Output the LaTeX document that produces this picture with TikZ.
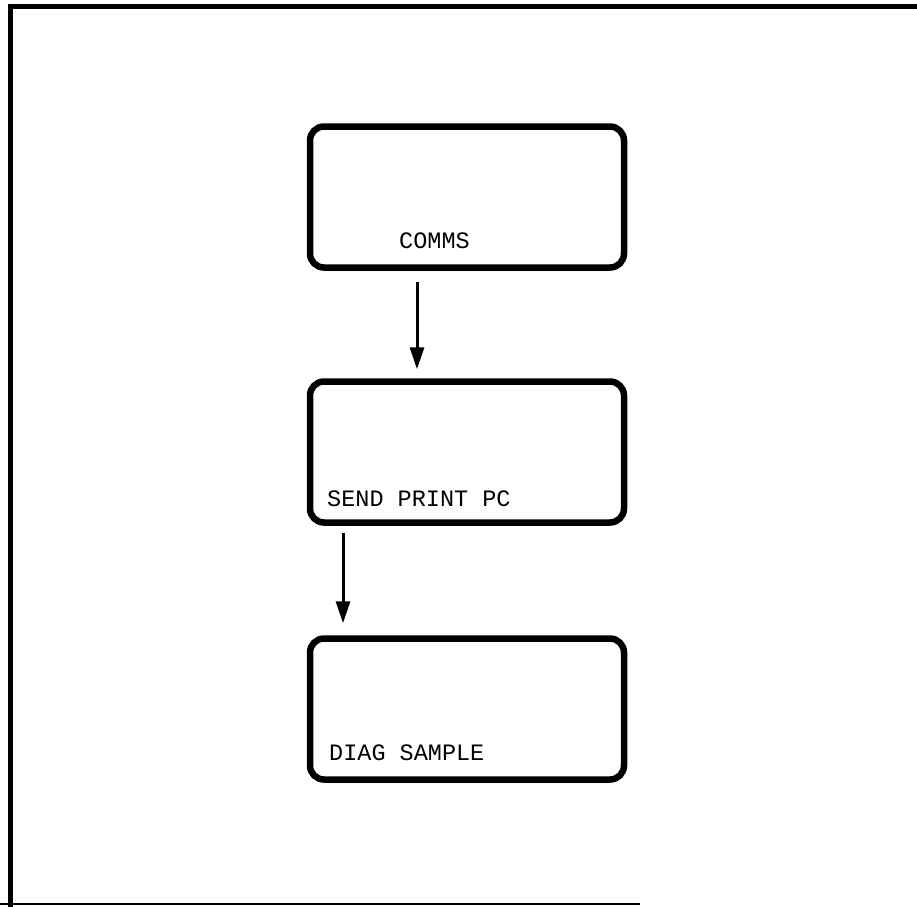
\documentclass[tikz,border=0pt]{standalone}
\usepackage{fontspec}
\setmonofont{Liberation Mono}
\usetikzlibrary{arrows.meta}
\begin{document}
\begin{tikzpicture}[x=1pt,y=-1pt,
  panel/.style={draw=black, line width=6.5pt, rounded corners=14pt,
    minimum width=314pt, minimum height=141pt, inner sep=0pt},
  caption/.style={font=\ttfamily\fontsize{23.5}{28}\selectfont, anchor=base west, inner sep=0pt},
  flow/.style={line width=3pt, -{Triangle[length=22pt,width=14pt]}}]
  \useasboundingbox (0,0) rectangle (917,906);
  % outer frame: heavy top and left rules, light bottom rule
  \draw[line width=5pt] (10,908) -- (10,6) -- (920,6);
  \draw[line width=2pt] (0,904) -- (640,904);
  % panels
  \node[panel] (comms) at (467,197) {};
  \node[panel] (send) at (467,452) {};
  \node[panel] (diag) at (467,709) {};
  % captions
  \node[caption] (tcomms) at (399,248) {COMMS};
  \node[caption] (tsend) at (327,506) {SEND PRINT PC};
  \node[caption] (tdiag) at (329,760) {DIAG SAMPLE};
  % connectors (canvas yshift points up)
  \draw[flow] ([xshift=-50pt,yshift=-11pt]comms.south) -- ([xshift=-50pt,yshift=9pt]send.north);
  \draw[flow] ([xshift=-124pt,yshift=-7pt]send.south) -- ([xshift=-124pt,yshift=12pt]diag.north);
\end{tikzpicture}
\end{document}
